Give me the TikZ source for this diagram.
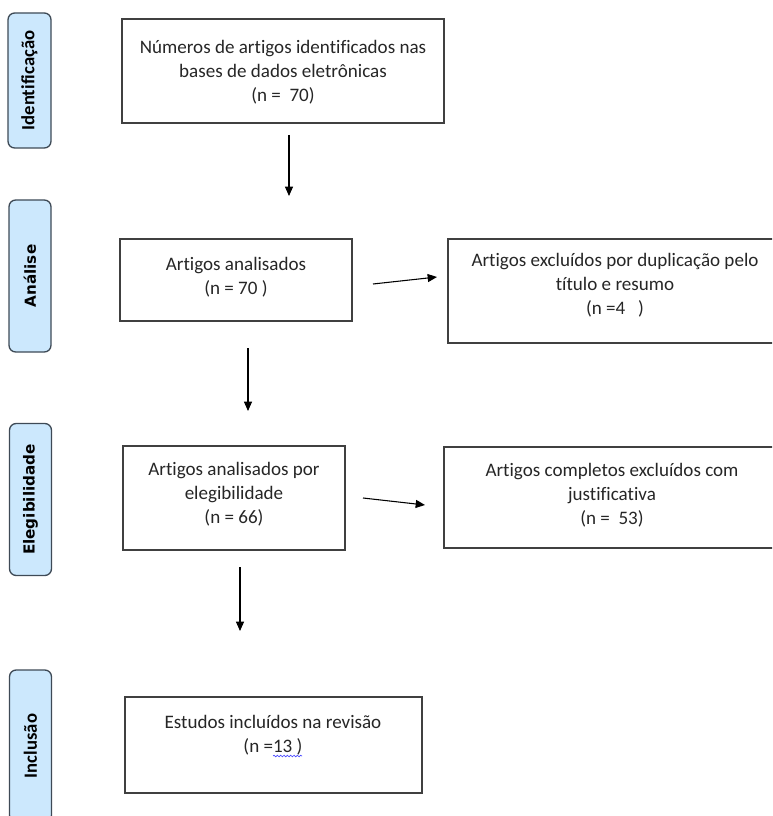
\documentclass[tikz,border=0pt]{standalone}
\usepackage{fontspec}
\setmainfont[Ligatures={NoCommon}]{Carlito}
\newfontfamily\verd{DejaVu Sans}
\usetikzlibrary{arrows.meta,decorations.pathmorphing}
\definecolor{phasefill}{HTML}{CCE8FD}
\definecolor{phaseline}{HTML}{3E4A56}
\definecolor{boxline}{HTML}{404040}
\definecolor{txt}{HTML}{262626}
\begin{document}
\begin{tikzpicture}[x=0.75pt,y=-0.75pt,
  phase/.style={draw=phaseline, fill=phasefill, rounded corners=5pt, line width=1pt,
    rotate=90, inner sep=0pt, minimum width=114pt, minimum height=31.5pt, text=black},
  box/.style={draw=boxline, line width=1pt, inner sep=0pt},
  txtnode/.style={align=center, inner sep=0pt, text=txt, font=\fontsize{14.3}{18}\selectfont},
  arr/.style={draw=black, line width=0.8pt, -{Triangle[length=7pt,width=6pt]}}]
\useasboundingbox (0,0) rectangle (772,816);
\clip (0,0) rectangle (772,816);
% phase labels
\node[phase, minimum width=101.25pt, minimum height=32.25pt, font=\fontsize{14}{16}\selectfont\bfseries] (pid) at (29.5,80.5) {Identificação};
\node[phase, font=\fontsize{11.4}{14}\selectfont\verd\bfseries] (pana) at (30,276) {Análise};
\node[phase, font=\fontsize{11.4}{14}\selectfont\verd\bfseries] (pele) at (30.5,499.5) {Elegibilidade};
\node[phase, font=\fontsize{14}{16}\selectfont\bfseries] (pinc) at (30.5,746) {Inclusão};
% boxes
\node[box, minimum width=241.5pt, minimum height=78pt] (b1) at (283,71) {};
\node[box, minimum width=174pt, minimum height=61.5pt] (b2) at (236,280) {};
\node[box, minimum width=250.5pt, minimum height=78pt] (b3) at (615,291) {};
\node[box, minimum width=166.5pt, minimum height=78pt] (b4) at (234,498) {};
\node[box, minimum width=252pt, minimum height=75.75pt] (b5) at (612,497.5) {};
\node[box, minimum width=222.75pt, minimum height=72pt] (b6) at (273.5,745) {};
% texts
\node[txtnode] (t1) at (283,72) {Números de artigos identificados nas\\bases de dados eletrônicas\\(n =\ \ 70)};
\node[txtnode] (t2) at (236,277) {Artigos analisados\\(n = 70 )};
\node[txtnode] (t3) at (615,285.5) {Artigos excluídos por duplicação pelo\\título e resumo\\(n =4\ \ \ )};
\node[txtnode] (t4) at (234,494) {Artigos analisados por\\elegibilidade\\(n = 66)};
\node[txtnode] (t5) at (612,495.5) {Artigos completos excluídos com\\justificativa\\(n =\ \ 53)};
\node[txtnode] (t6) at (273,735) {Estudos incluídos na revisão\\(n =13 )};
% squiggle
\draw[blue!70, line width=0.5pt, decorate, decoration={snake, amplitude=0.6pt, segment length=2.5pt}] (273,756) -- (302,756);
% arrows
\coordinate (a1s) at (289,135); \coordinate (a1e) at (289,196);
\coordinate (a2s) at (373,284); \coordinate (a2e) at (437,277);
\coordinate (a3s) at (248,348); \coordinate (a3e) at (248,411);
\coordinate (a4s) at (363,498); \coordinate (a4e) at (425,505);
\coordinate (a5s) at (240,567); \coordinate (a5e) at (240,631);
\draw[arr] (a1s) -- (a1e);
\draw[arr] (a2s) -- (a2e);
\draw[arr] (a3s) -- (a3e);
\draw[arr] (a4s) -- (a4e);
\draw[arr] (a5s) -- (a5e);
\end{tikzpicture}
\end{document}
